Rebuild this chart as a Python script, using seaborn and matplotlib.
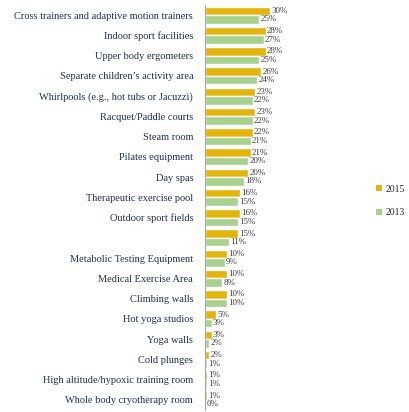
import matplotlib
matplotlib.use("Agg")
import matplotlib.pyplot as plt
import seaborn as sns
import pandas as pd
import numpy as np
from matplotlib.patches import Patch

categories = [
    "Cross trainers and adaptive motion trainers",
    "Indoor sport facilities",
    "Upper body ergometers",
    "Separate children\u2019s activity area",
    "Whirlpools (e.g., hot tubs or Jacuzzi)",
    "Racquet/Paddle courts",
    "Steam room",
    "Pilates equipment",
    "Day spas",
    "Therapeutic exercise pool",
    "Outdoor sport fields",
    " ",
    "Metabolic Testing Equipment",
    "Medical Exercise Area",
    "Climbing walls",
    "Hot yoga studios",
    "Yoga walls",
    "Cold plunges",
    "High altitude/hypoxic training room",
    "Whole body cryotherapy room",
]
values_2015 = [30, 28, 28, 26, 23, 23, 22, 21, 20, 16, 16, 15, 10, 10, 10, 5, 3, 2, 1, 1]
values_2013 = [25, 27, 25, 24, 22, 22, 21, 20, 18, 15, 15, 11, 9, 8, 10, 3, 2, 1, 1, 0]
years = ["2015", "2013"]

df = pd.DataFrame({
    "category": categories * 2,
    "value": values_2015 + values_2013,
    "year": [years[0]] * len(categories) + [years[1]] * len(categories),
})

sns.set_theme(style="white")
plt.rcParams['font.family'] = ['Liberation Serif', 'DejaVu Serif']

fig = plt.figure(figsize=(4.09, 4.12), dpi=100)
ax = fig.add_axes([205/409, 1 - 410/412, 0.36, (410 - 5)/412])

palette = {"2015": "#E2B40C", "2013": "#A9D18E"}
sns.barplot(data=df, y="category", x="value", hue="year", hue_order=years,
            order=categories, orient="h", palette=palette, width=0.84,
            saturation=1, ax=ax, legend=False)

for cont, yr in zip(ax.containers, years):
    labels = [f"{int(v)}%" for v in cont.datavalues]
    ax.bar_label(cont, labels=labels, padding=1, fontsize=6.5, color="#404040")

ax.set_xlim(0, 30 * (0.36 * 409) / 65)
ax.set_ylim(19.5, -0.5)
ax.set_xlabel("")
ax.set_ylabel("")
ax.set_xticks([])
for s in ["top", "right", "bottom"]:
    ax.spines[s].set_visible(False)
ax.spines["left"].set_color("#A6A6A6")
ax.spines["left"].set_linewidth(0.8)
ax.tick_params(axis="y", which="major", length=0, pad=8.5, labelsize=7.45,
               labelcolor="#1F3050")
ax.set_yticks(np.arange(-0.5, 20, 1), minor=True)
ax.tick_params(axis="y", which="minor", length=3, color="#A6A6A6", direction="out")

handles = [Patch(facecolor=palette[y], edgecolor="none") for y in years]
fig.legend(handles, years, loc="center left", bbox_to_anchor=(376/409, 1 - 201/412),
           frameon=False, fontsize=7, handlelength=0.6, handleheight=0.6,
           handletextpad=0.4, labelspacing=1.5, borderpad=0, borderaxespad=0)

fig.savefig("out.png", dpi=100)
